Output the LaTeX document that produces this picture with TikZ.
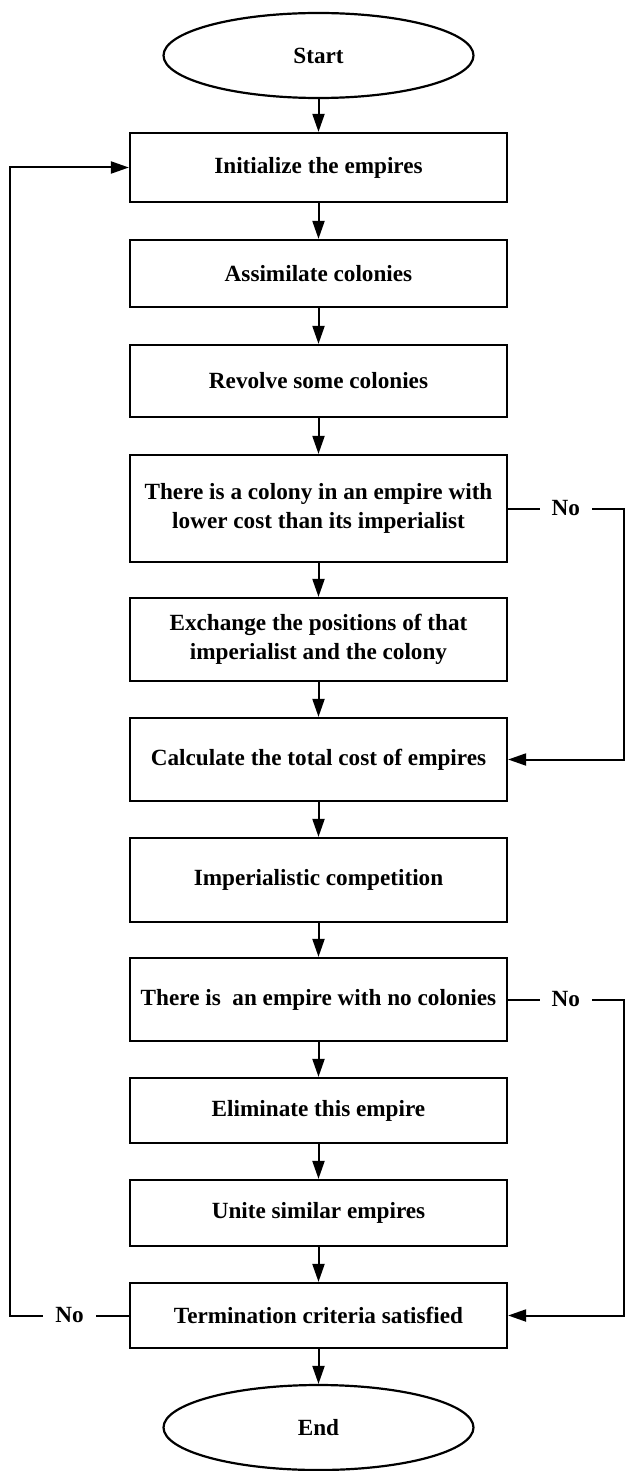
\documentclass[tikz,border=0pt]{standalone}
\usepackage{fontspec}
\setmainfont{Liberation Serif}
\usepackage{tikz}
\usetikzlibrary{shapes,arrows.meta}

\tikzset{
  kasten/.style={draw, rectangle, minimum width=188.5pt, align=center, inner sep=2pt, line width=1.1pt},
  oval/.style={draw, ellipse, minimum width=155pt, minimum height=42.5pt, inner sep=0pt, line width=1.1pt},
  pfeil/.style={->, line width=1pt},
  nein/.style={fill=white, inner xsep=6pt, inner ysep=1pt},
}

\begin{document}
\begin{tikzpicture}[x=0.5pt, y=-0.5pt,
  font=\fontsize{11.6}{14.3}\selectfont\bfseries,
  >={Triangle[length=9pt,width=6pt]}]

\def\xm{318.5}
\def\xr{623.5}
\def\xl{10}

\useasboundingbox (0,0) rectangle (625,1471);

% Anfang und Ende
\node[oval] (start) at (\xm,55.5) {Start};
\node[oval] (ende) at (\xm,1427.5) {End};

% Kaesten
\node[kasten, minimum height=34.5pt] (init) at (\xm,167.5) {Initialize the empires};
\node[kasten, minimum height=33.5pt] (assim) at (\xm,273.5) {Assimilate colonies};
\node[kasten, minimum height=36pt] (revolve) at (\xm,381) {Revolve some colonies};
\node[kasten, minimum height=53.5pt] (colony) at (\xm,508.5) {There is a colony in an empire with\\lower cost than its imperialist};
\node[kasten, minimum height=41.5pt] (exchange) at (\xm,639.5) {Exchange the positions of that\\imperialist and the colony};
\node[kasten, minimum height=41.5pt] (calc) at (\xm,759.5) {Calculate the total cost of empires};
\node[kasten, minimum height=42pt] (compet) at (\xm,880) {Imperialistic competition};
\node[kasten, minimum height=41.5pt] (nocol) at (\xm,999.5) {There is\ \ an empire with no colonies};
\node[kasten, minimum height=32.5pt] (elim) at (\xm,1110.5) {Eliminate this empire};
\node[kasten, minimum height=33pt] (unite) at (\xm,1213) {Unite similar empires};
\node[kasten, minimum height=32.5pt] (term) at (\xm,1315.5) {Termination criteria satisfied};

% Pfeile nach unten
\foreach \a/\b in {start/init, init/assim, assim/revolve, revolve/colony, colony/exchange,
  exchange/calc, calc/compet, compet/nocol, nocol/elim, elim/unite, unite/term, term/ende}
  \draw[pfeil] (\a) -- (\b);

% Rueckfuehrungen
\coordinate (eck1) at (\xr,508.5);
\coordinate (eck2) at (\xr,999.5);
\coordinate (eck3) at (\xl,1315.5);

\draw[pfeil] (colony.east) -- node[nein] {No} (eck1) |- (calc.east);
\draw[pfeil] (nocol.east) -- node[nein] {No} (eck2) |- (term.east);
\draw[pfeil] (term.west) -- node[nein] {No} (eck3) |- (init.west);

\end{tikzpicture}
\end{document}
